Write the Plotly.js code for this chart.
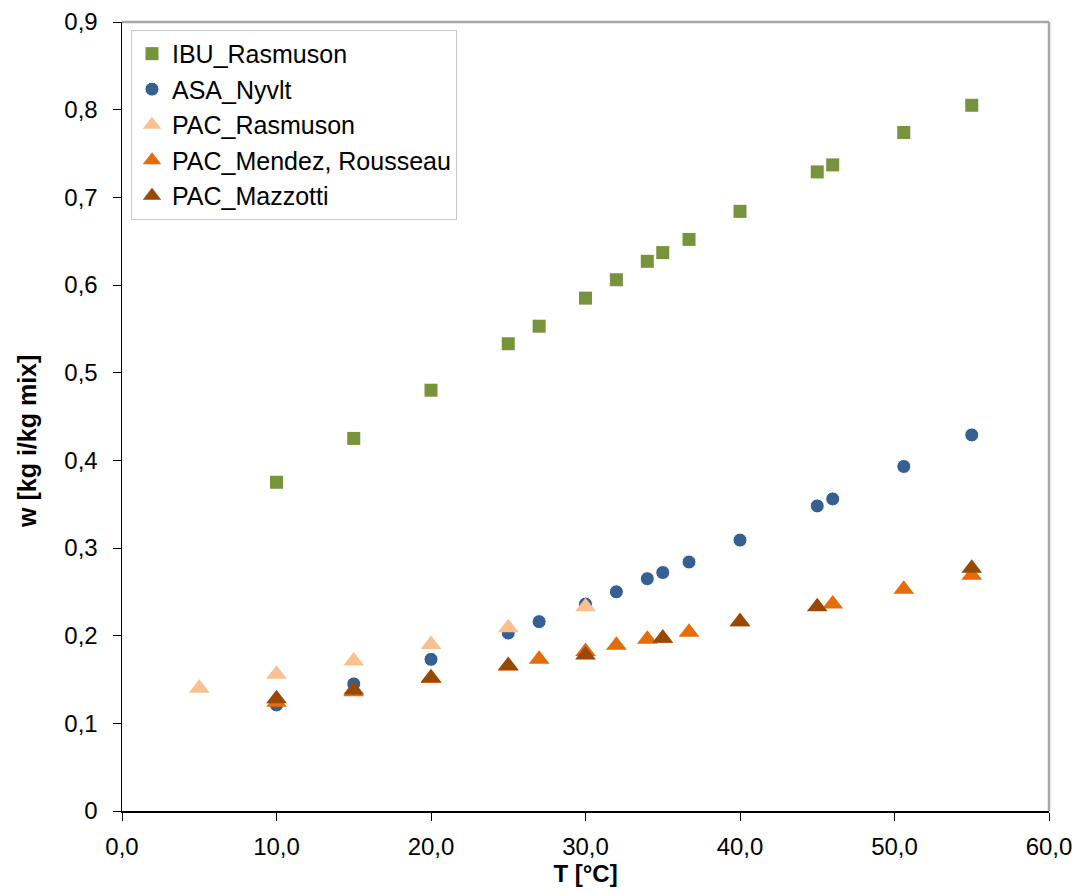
<!DOCTYPE html>
<html><head><meta charset="utf-8">
<script src="https://cdn.plot.ly/plotly-3.0.1.min.js"></script>
<style>html,body{margin:0;padding:0;background:#fff}#chart{width:1080px;height:893px}</style>
</head><body><div id="chart"></div>
<script>
// Data
const ibuT = [10, 15, 20, 25, 27, 30, 32, 34, 35, 36.7, 40, 45, 46, 50.6, 55];
const ibuW = [0.375, 0.425, 0.480, 0.533, 0.553, 0.585, 0.606, 0.627, 0.637, 0.652, 0.684, 0.729, 0.737, 0.774, 0.805];

const asaT = [10, 15, 20, 25, 27, 30, 32, 34, 35, 36.7, 40, 45, 46, 50.6, 55];
const asaW = [0.121, 0.145, 0.173, 0.203, 0.216, 0.236, 0.250, 0.265, 0.272, 0.284, 0.309, 0.348, 0.356, 0.393, 0.429];

const pacRasT = [5, 10, 15, 20, 25, 30];
const pacRasW = [0.140, 0.156, 0.171, 0.190, 0.209, 0.233];

const pacMenT = [10, 15, 20, 25, 27, 30, 32, 34, 35, 36.7, 40, 46, 50.6, 55];
const pacMenW = [0.124, 0.136, 0.151, 0.165, 0.173, 0.182, 0.189, 0.196, 0.197, 0.204, 0.216, 0.236, 0.253, 0.269];

const pacMazT = [10, 15, 20, 25, 30, 35, 40, 45, 55];
const pacMazW = [0.128, 0.138, 0.152, 0.166, 0.178, 0.197, 0.216, 0.233, 0.277];

const xTickVals = [0, 10, 20, 30, 40, 50, 60];
const xTickText = ["0,0", "10,0", "20,0", "30,0", "40,0", "50,0", "60,0"];
const yTickVals = [0, 0.1, 0.2, 0.3, 0.4, 0.5, 0.6, 0.7, 0.8, 0.9];
const yTickText = ["0", "0,1", "0,2", "0,3", "0,4", "0,5", "0,6", "0,7", "0,8", "0,9"];

const xTitle = "T [°C]";
const yTitle = "w [kg i/kg mix]";

const FONT = "Liberation Sans, Arial, sans-serif";

const traces = [
  {name: "IBU_Rasmuson", x: ibuT, y: ibuW, type: "scatter", mode: "markers",
   marker: {symbol: "square", size: 13, color: "#77933C", line: {width: 0}}},
  {name: "ASA_Nyvlt", x: asaT, y: asaW, type: "scatter", mode: "markers",
   marker: {symbol: "circle", size: 14, color: "#376092", line: {width: 1, color: "#ffffff"}}},
  {name: "PAC_Rasmuson", x: pacRasT, y: pacRasW, type: "scatter", mode: "markers",
   marker: {symbol: "triangle-up", size: 18, color: "#FAC090", line: {width: 0}}},
  {name: "PAC_Mendez, Rousseau", x: pacMenT, y: pacMenW, type: "scatter", mode: "markers",
   marker: {symbol: "triangle-up", size: 18, color: "#E46C0A", line: {width: 0}}},
  {name: "PAC_Mazzotti", x: pacMazT, y: pacMazW, type: "scatter", mode: "markers",
   marker: {symbol: "triangle-up", size: 18, color: "#984807", line: {width: 0}}}
];

const layout = {
  width: 1080, height: 893,
  margin: {l: 122, r: 31, t: 22, b: 82},
  paper_bgcolor: "#ffffff", plot_bgcolor: "#ffffff",
  font: {family: FONT, size: 24, color: "#000"},
  showlegend: true,
  legend: {x: 0.0097, y: 0.99, xanchor: "left", yanchor: "top",
           bordercolor: "#c8c8c8", borderwidth: 1, bgcolor: "#ffffff",
           font: {family: FONT, size: 25, color: "#000"}, itemwidth: 30},
  xaxis: {range: [0, 60], tickvals: xTickVals, ticktext: xTickText,
          showgrid: false, zeroline: false, showline: true, linecolor: "#000", linewidth: 1.5,
          ticks: "outside", ticklen: 8, tickcolor: "#000", mirror: false,
          ticklabelstandoff: 6,
          tickfont: {family: FONT, size: 24},
          title: {text: "<b>" + xTitle + "</b>", font: {family: FONT, size: 24}, standoff: 6}},
  yaxis: {range: [0, 0.9], tickvals: yTickVals, ticktext: yTickText,
          showgrid: false, zeroline: false, showline: true, linecolor: "#000", linewidth: 1.5,
          ticks: "outside", ticklen: 8, tickcolor: "#000",
          ticklabelstandoff: 10,
          tickfont: {family: FONT, size: 24},
          title: {text: ""}},
  annotations: [
    {text: "<b>" + yTitle + "</b>", xref: "paper", yref: "paper", x: -0.1025, y: 0.469,
     xanchor: "center", yanchor: "middle", textangle: -90, showarrow: false,
     font: {family: FONT, size: 25, color: "#000"}}
  ],
  shapes: [
    {type: "line", xref: "paper", yref: "paper", x0: 0, x1: 1, y0: 1, y1: 1, line: {color: "#a6a6a6", width: 2.5}},
    {type: "line", xref: "paper", yref: "paper", x0: 1, x1: 1, y0: 0, y1: 1, line: {color: "#a6a6a6", width: 2.5}}
  ]
};

Plotly.newPlot("chart", traces, layout, {displayModeBar: false, staticPlot: true});
</script>
</body></html>
